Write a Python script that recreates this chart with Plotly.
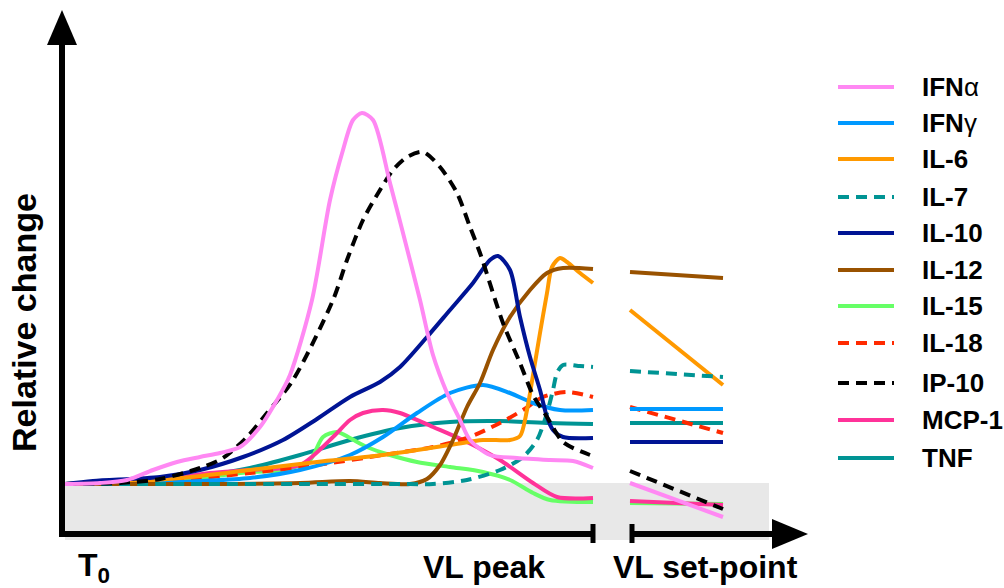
import plotly.graph_objects as go

# Time (arbitrary units, T0 = 0) and relative change (baseline = 0)
# Segment 1: T0 -> VL peak ; Segment 2: VL set-point phase
names = ["IFNα", "IFNγ", "IL-6", "IL-7", "IL-10", "IL-12", "IL-15", "IL-18", "IP-10", "MCP-1", "TNF"]
colors = ["#ff88f3", "#0099ff", "#ff9900", "#009494", "#001494", "#995200",
          "#66ff66", "#ff2a00", "#000000", "#ff3399", "#009494"]
dashed = [False, False, False, True, False, False, False, True, True, False, False]

ifna_t = [0, 35, 62, 88, 112, 135, 155, 175, 195, 212, 225, 247, 265, 278, 288, 297, 308, 325, 338, 355, 368, 382, 395, 405, 425, 452, 485, 508, 528]
ifna_v = [0, 1, 4, 14, 22, 27, 31, 37, 57, 84, 109, 184, 284, 334, 364, 371, 364, 301, 251, 184, 129, 91, 64, 44, 29, 26, 24, 23, 16]
ifna_t2 = [565, 658]
ifna_v2 = [1, -33]

ifng_t = [0, 85, 135, 185, 235, 285, 318, 352, 385, 418, 445, 468, 495, 528]
ifng_v = [0, 1, 3, 6, 14, 29, 47, 71, 91, 99, 91, 81, 74, 74]
ifng_t2 = [565, 658]
ifng_v2 = [75, 75]

il6_t = [0, 55, 115, 185, 252, 318, 385, 418, 445, 455, 462, 468, 475, 482, 487, 495, 502, 515, 528]
il6_v = [0, 2, 6, 14, 22, 29, 39, 44, 44, 48, 74, 109, 151, 191, 217, 226, 222, 211, 201]
il6_t2 = [565, 658]
il6_v2 = [174, 99]

il7_t = [0, 135, 235, 335, 368, 402, 435, 458, 472, 482, 488, 492, 498, 515, 528]
il7_v = [0, 0, 0, 0, 0, 4, 14, 27, 44, 71, 94, 111, 119, 118, 117]
il7_t2 = [565, 658]
il7_v2 = [113, 107]

il10_t = [0, 28, 95, 135, 178, 218, 252, 285, 315, 335, 362, 385, 408, 425, 433, 445, 455, 465, 475, 482, 488, 498, 528]
il10_v = [0, 3, 7, 14, 27, 44, 65, 87, 102, 117, 147, 174, 201, 224, 228, 214, 167, 127, 94, 67, 54, 47, 46]
il10_t2 = [565, 658]
il10_v2 = [42, 42]

il12_t = [0, 135, 235, 285, 315, 345, 362, 375, 388, 402, 415, 428, 445, 465, 482, 498, 528]
il12_v = [0, 0, 1, 3, 1, 0, 5, 19, 44, 77, 101, 134, 167, 194, 211, 216, 215]
il12_t2 = [565, 658]
il12_v2 = [212, 206]

il15_t = [0, 85, 135, 185, 218, 245, 258, 272, 285, 302, 325, 352, 385, 418, 445, 468, 485, 528]
il15_v = [0, 2, 6, 12, 14, 24, 47, 52, 46, 37, 29, 22, 17, 12, 4, -9, -16, -18]
il15_t2 = [565, 658]
il15_v2 = [-19, -20]

il18_t = [0, 85, 135, 185, 252, 318, 368, 402, 435, 458, 478, 502, 528]
il18_v = [0, 2, 6, 11, 19, 29, 37, 46, 61, 74, 87, 92, 87]
il18_t2 = [565, 658]
il18_v2 = [77, 51]

ip10_t = [0, 55, 95, 135, 158, 182, 202, 228, 268, 282, 298, 315, 328, 342, 358, 375, 392, 405, 415, 438, 455, 468, 482, 498, 525]
ip10_v = [0, 1, 5, 16, 26, 47, 71, 104, 184, 224, 264, 294, 314, 327, 332, 317, 291, 257, 231, 161, 121, 89, 67, 42, 29]
ip10_t2 = [565, 658]
ip10_v2 = [13, -25]

mcp1_t = [0, 85, 145, 185, 235, 268, 285, 298, 318, 335, 368, 402, 435, 468, 492, 528]
mcp1_v = [0, 3, 11, 14, 19, 47, 64, 71, 74, 71, 57, 42, 24, 1, -13, -14]
mcp1_t2 = [565, 658]
mcp1_v2 = [-17, -21]

tnf_t = [0, 85, 135, 185, 235, 285, 335, 385, 435, 485, 528]
tnf_v = [0, 4, 8, 16, 29, 44, 56, 62, 63, 61, 60]
tnf_t2 = [565, 658]
tnf_v2 = [61, 61]

series = {
    "IFNα": (ifna_t, ifna_v, ifna_t2, ifna_v2),
    "IFNγ": (ifng_t, ifng_v, ifng_t2, ifng_v2),
    "IL-6": (il6_t, il6_v, il6_t2, il6_v2),
    "IL-7": (il7_t, il7_v, il7_t2, il7_v2),
    "IL-10": (il10_t, il10_v, il10_t2, il10_v2),
    "IL-12": (il12_t, il12_v, il12_t2, il12_v2),
    "IL-15": (il15_t, il15_v, il15_t2, il15_v2),
    "IL-18": (il18_t, il18_v, il18_t2, il18_v2),
    "IP-10": (ip10_t, ip10_v, ip10_t2, ip10_v2),
    "MCP-1": (mcp1_t, mcp1_v, mcp1_t2, mcp1_v2),
    "TNF": (tnf_t, tnf_v, tnf_t2, tnf_v2),
}

draw_order = ["TNF", "IL-15", "MCP-1", "IL-18", "IFNγ", "IL-6", "IL-12", "IL-7", "IL-10", "IP-10", "IFNα"]

x_labels = ["T<sub>0</sub>", "VL peak", "VL set-point"]
y_label = "Relative change"

FONT = "Liberation Sans, Arial, sans-serif"
LW = 4

fig = go.Figure()

for nm in draw_order:
    i = names.index(nm)
    t1, v1, t2, v2 = series[nm]
    dash = "11px,7px" if dashed[i] else "solid"
    for tt, vv in ((t1, v1), (t2, v2)):
        fig.add_trace(go.Scatter(
            x=tt, y=vv, mode="lines",
            line=dict(color=colors[i], width=LW, dash=dash, shape="spline", smoothing=0.8),
            showlegend=False, hoverinfo="skip"))

shapes = []
# grey band below baseline
shapes.append(dict(type="rect", xref="x", yref="y", x0=0, x1=704, y0=1, y1=-56,
                   fillcolor="#e8e8e8", line=dict(width=0), layer="below"))
# y axis line and arrow
shapes.append(dict(type="line", xref="x", yref="y", x0=-3, x1=-3, y0=-53, y1=440,
                   line=dict(color="black", width=6)))
shapes.append(dict(type="path", xref="x", yref="y",
                   path="M -18 439 L 12 439 L -3 474 Z", fillcolor="black", line=dict(width=0)))
# x axis: two segments with break ticks, arrow
shapes.append(dict(type="line", xref="x", yref="y", x0=-6, x1=528, y0=-50, y1=-50,
                   line=dict(color="black", width=6)))
shapes.append(dict(type="line", xref="x", yref="y", x0=567, x1=710, y0=-50, y1=-50,
                   line=dict(color="black", width=6)))
shapes.append(dict(type="line", xref="x", yref="y", x0=528, x1=528, y0=-40, y1=-59,
                   line=dict(color="black", width=5)))
shapes.append(dict(type="line", xref="x", yref="y", x0=567, x1=567, y0=-40, y1=-59,
                   line=dict(color="black", width=5)))
shapes.append(dict(type="path", xref="x", yref="y",
                   path="M 707 -35 L 707 -65 L 743 -50 Z", fillcolor="black", line=dict(width=0)))

annotations = []
# legend (drawn manually)
leg_y = [397, 361, 325, 287, 251, 214, 178, 141, 101, 64, 26]
for i, nm in enumerate(names):
    shapes.append(dict(type="line", xref="x", yref="y", x0=773, x1=829, y0=leg_y[i], y1=leg_y[i],
                       line=dict(color=colors[i], width=LW, dash="11px,7px" if dashed[i] else "solid")))
    if nm.startswith("IFN"):
        txt = "<b>IFN</b>" + nm[3:]
    else:
        txt = "<b>" + nm + "</b>"
    annotations.append(dict(x=855, y=leg_y[i], xref="x", yref="y", text=txt, showarrow=False,
                            xanchor="left", yanchor="middle",
                            font=dict(family=FONT, size=26, color="black")))

# axis labels
annotations.append(dict(x=11, y=-83, xref="x", yref="y", text="<b>" + x_labels[0] + "</b>", showarrow=False,
                        xanchor="left", yanchor="middle", font=dict(family=FONT, size=32, color="black")))
annotations.append(dict(x=419, y=-83, xref="x", yref="y", text="<b>" + x_labels[1] + "</b>", showarrow=False,
                        xanchor="center", yanchor="middle", font=dict(family=FONT, size=32, color="black")))
annotations.append(dict(x=640, y=-83, xref="x", yref="y", text="<b>" + x_labels[2] + "</b>", showarrow=False,
                        xanchor="center", yanchor="middle", font=dict(family=FONT, size=32, color="black")))
annotations.append(dict(x=-41, y=161, xref="x", yref="y", text="<b>" + y_label + "</b>", showarrow=False,
                        textangle=-90, xanchor="center", yanchor="middle",
                        font=dict(family=FONT, size=34, color="black")))

fig.update_layout(
    width=1004, height=588,
    margin=dict(l=0, r=0, t=0, b=0),
    paper_bgcolor="white", plot_bgcolor="white",
    xaxis=dict(range=[-65, 939], visible=False, fixedrange=True),
    yaxis=dict(range=[-104, 484], visible=False, fixedrange=True),
    shapes=shapes, annotations=annotations, showlegend=False,
)

fig.write_html("out.html")
